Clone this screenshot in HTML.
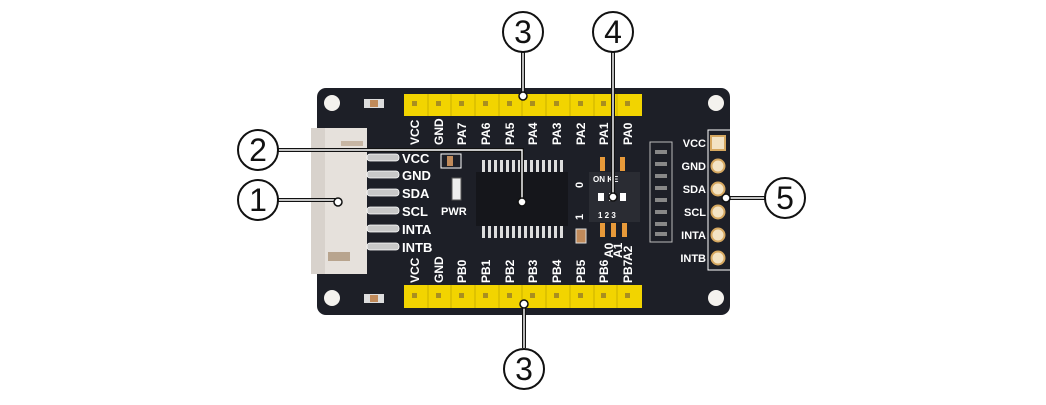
<!DOCTYPE html>
<html><head><meta charset="utf-8"><style>
html,body{margin:0;padding:0;background:#fff;width:1046px;height:405px;overflow:hidden}
svg{display:block}
.t{font-family:"Liberation Sans",sans-serif;font-weight:bold;fill:#fff}
.c{font-family:"Liberation Sans",sans-serif;fill:#111;font-size:32px}
</style></head><body>
<svg width="1046" height="405" viewBox="0 0 1046 405" xmlns="http://www.w3.org/2000/svg">
<rect x="317" y="88" width="413" height="227" rx="9" fill="#1d1f27"/>
<g fill="#f4f2ee"><circle cx="332" cy="103" r="8"/><circle cx="716" cy="103" r="8"/><circle cx="332" cy="298" r="8"/><circle cx="716" cy="298" r="8"/></g>
<g><rect x="364" y="99" width="20" height="9" fill="#ddd"/><rect x="370" y="100" width="8" height="7" fill="#c08a5a"/>
<rect x="364" y="294" width="20" height="9" fill="#ddd"/><rect x="370" y="295" width="8" height="7" fill="#c08a5a"/></g>
<rect x="404" y="94" width="238" height="22" fill="#f2d400"/>
<rect x="404" y="285" width="238" height="23" fill="#f2d400"/>
<g stroke="#c9b000" stroke-width="1">
<path d="M428 94V116M451 94V116M475 94V116M499 94V116M522 94V116M546 94V116M570 94V116M594 94V116M617 94V116"/>
<path d="M428 285V308M451 285V308M475 285V308M499 285V308M522 285V308M546 285V308M570 285V308M594 285V308M617 285V308"/>
</g>
<g fill="#a88f20">
<rect x="412" y="101" width="5" height="5"/><rect x="436" y="101" width="5" height="5"/><rect x="459" y="101" width="5" height="5"/><rect x="483" y="101" width="5" height="5"/><rect x="507" y="101" width="5" height="5"/><rect x="530" y="101" width="5" height="5"/><rect x="554" y="101" width="5" height="5"/><rect x="578" y="101" width="5" height="5"/><rect x="601" y="101" width="5" height="5"/><rect x="625" y="101" width="5" height="5"/>
<rect x="412" y="293" width="5" height="5"/><rect x="436" y="293" width="5" height="5"/><rect x="459" y="293" width="5" height="5"/><rect x="483" y="293" width="5" height="5"/><rect x="507" y="293" width="5" height="5"/><rect x="530" y="293" width="5" height="5"/><rect x="554" y="293" width="5" height="5"/><rect x="578" y="293" width="5" height="5"/><rect x="601" y="293" width="5" height="5"/><rect x="625" y="293" width="5" height="5"/>
</g>
<g class="t" font-size="12">
<text transform="translate(419,145) rotate(-90)">VCC</text>
<text transform="translate(443,145) rotate(-90)">GND</text>
<text transform="translate(466,145) rotate(-90)">PA7</text>
<text transform="translate(490,145) rotate(-90)">PA6</text>
<text transform="translate(514,145) rotate(-90)">PA5</text>
<text transform="translate(537,145) rotate(-90)">PA4</text>
<text transform="translate(561,145) rotate(-90)">PA3</text>
<text transform="translate(585,145) rotate(-90)">PA2</text>
<text transform="translate(608,145) rotate(-90)">PA1</text>
<text transform="translate(632,145) rotate(-90)">PA0</text>
<text transform="translate(419,283) rotate(-90)">VCC</text>
<text transform="translate(443,283) rotate(-90)">GND</text>
<text transform="translate(466,283) rotate(-90)">PB0</text>
<text transform="translate(490,283) rotate(-90)">PB1</text>
<text transform="translate(514,283) rotate(-90)">PB2</text>
<text transform="translate(537,283) rotate(-90)">PB3</text>
<text transform="translate(561,283) rotate(-90)">PB4</text>
<text transform="translate(585,283) rotate(-90)">PB5</text>
<text transform="translate(608,283) rotate(-90)">PB6</text>
<text transform="translate(632,283) rotate(-90)">PB7</text>
<text transform="translate(613,258) rotate(-90)">A0</text>
<text transform="translate(622,258) rotate(-90)">A1</text>
<text transform="translate(632,261) rotate(-90)">A2</text>
</g>
<rect x="311" y="128" width="56" height="146" fill="#e6e1dc"/>
<rect x="311" y="128" width="14" height="146" fill="#d8d2cc"/>
<rect x="328" y="252" width="22" height="9" fill="#b8a48e"/>
<rect x="341" y="141" width="22" height="5" fill="#c7b6a4"/>
<g fill="#c8c8c8" stroke="#fff" stroke-width="0.8">
<rect x="367" y="154" width="32" height="7" rx="3"/><rect x="367" y="171" width="32" height="7" rx="3"/><rect x="367" y="189" width="32" height="7" rx="3"/><rect x="367" y="207" width="32" height="7" rx="3"/><rect x="367" y="225" width="32" height="7" rx="3"/><rect x="367" y="243" width="32" height="7" rx="3"/>
</g>
<g class="t" font-size="13">
<text x="402" y="163">VCC</text><text x="402" y="180">GND</text><text x="402" y="198">SDA</text><text x="402" y="216">SCL</text><text x="402" y="234">INTA</text><text x="402" y="252">INTB</text>
<text x="441" y="215" font-size="11">PWR</text>
</g>
<rect x="441" y="154" width="20" height="14" fill="none" stroke="#fff" stroke-width="1"/>
<rect x="447" y="156" width="6" height="10" fill="#c08a5a"/>
<rect x="452" y="178" width="9" height="22" fill="#eee" stroke="#555"/>
<g fill="#ddd">
<rect x="482" y="160" width="3" height="12"/><rect x="488" y="160" width="3" height="12"/><rect x="494" y="160" width="3" height="12"/><rect x="500" y="160" width="3" height="12"/><rect x="506" y="160" width="3" height="12"/><rect x="512" y="160" width="3" height="12"/><rect x="518" y="160" width="3" height="12"/><rect x="524" y="160" width="3" height="12"/><rect x="530" y="160" width="3" height="12"/><rect x="536" y="160" width="3" height="12"/><rect x="542" y="160" width="3" height="12"/><rect x="548" y="160" width="3" height="12"/><rect x="554" y="160" width="3" height="12"/><rect x="560" y="160" width="3" height="12"/>
<rect x="482" y="226" width="3" height="12"/><rect x="488" y="226" width="3" height="12"/><rect x="494" y="226" width="3" height="12"/><rect x="500" y="226" width="3" height="12"/><rect x="506" y="226" width="3" height="12"/><rect x="512" y="226" width="3" height="12"/><rect x="518" y="226" width="3" height="12"/><rect x="524" y="226" width="3" height="12"/><rect x="530" y="226" width="3" height="12"/><rect x="536" y="226" width="3" height="12"/><rect x="542" y="226" width="3" height="12"/><rect x="548" y="226" width="3" height="12"/><rect x="554" y="226" width="3" height="12"/><rect x="560" y="226" width="3" height="12"/>
</g>
<rect x="476" y="172" width="92" height="54" fill="#15161b"/>
<g class="t" font-size="11"><text transform="translate(583,188) rotate(-90)">0</text><text transform="translate(583,220) rotate(-90)">1</text></g>
<rect x="576" y="229" width="10" height="14" fill="#c08a5a" stroke="#ddd"/>
<rect x="589" y="172" width="51" height="50" fill="#2a2c33"/>
<g fill="#e89a3a"><rect x="600" y="157" width="5" height="14"/><rect x="620" y="157" width="5" height="14"/><rect x="600" y="223" width="5" height="14"/><rect x="611" y="223" width="5" height="14"/><rect x="622" y="223" width="5" height="14"/></g>
<g class="t" font-size="8"><text x="593" y="182">ON KE</text><text x="598" y="218">1  2  3</text></g>
<g fill="#fff"><rect x="598" y="193" width="6" height="8"/><rect x="609" y="193" width="6" height="8"/><rect x="620" y="193" width="6" height="8"/></g>
<rect x="650" y="142" width="22" height="100" fill="none" stroke="#bbb" stroke-width="1"/>
<g fill="#888"><rect x="655" y="150" width="12" height="4"/><rect x="655" y="162" width="12" height="4"/><rect x="655" y="174" width="12" height="4"/><rect x="655" y="186" width="12" height="4"/><rect x="655" y="198" width="12" height="4"/><rect x="655" y="210" width="12" height="4"/><rect x="655" y="222" width="12" height="4"/><rect x="655" y="232" width="12" height="4"/></g>
<rect x="708" y="130" width="30" height="140" fill="none" stroke="#fff" stroke-width="1"/>
<rect x="711" y="136" width="14" height="14" fill="#f3e3c4" stroke="#d6a860" stroke-width="2"/>
<g fill="#f3e3c4" stroke="#d6a860" stroke-width="2"><circle cx="718" cy="166" r="6.5"/><circle cx="718" cy="189" r="6.5"/><circle cx="718" cy="212" r="6.5"/><circle cx="718" cy="235" r="6.5"/><circle cx="718" cy="258" r="6.5"/></g>
<g class="t" font-size="11" text-anchor="end"><text x="706" y="147">VCC</text><text x="706" y="170">GND</text><text x="706" y="193">SDA</text><text x="706" y="216">SCL</text><text x="706" y="239">INTA</text><text x="706" y="262">INTB</text></g>
<g fill="none">
<g stroke="#111" stroke-width="4">
<path d="M523 52 V96"/><path d="M613 52 V197"/><path d="M278 150 H522 V202"/><path d="M278 200 H338"/><path d="M765 198 H726"/><path d="M524 304 V348"/>
</g>
<g stroke="#fff" stroke-width="1.4">
<path d="M523 52 V96"/><path d="M613 52 V197"/><path d="M278 150 H522 V202"/><path d="M278 200 H338"/><path d="M765 198 H726"/><path d="M524 304 V348"/>
</g>
</g>
<g fill="#fff" stroke="#111" stroke-width="1.5">
<circle cx="523" cy="96" r="4"/><circle cx="613" cy="197" r="4"/><circle cx="522" cy="202" r="4"/><circle cx="338" cy="202" r="4"/><circle cx="726" cy="198" r="4"/><circle cx="524" cy="304" r="4"/>
</g>
<g fill="#fff" stroke="#111" stroke-width="2">
<circle cx="523" cy="32" r="20"/><circle cx="613" cy="32" r="20"/><circle cx="258" cy="150" r="20"/><circle cx="258" cy="200" r="20"/><circle cx="785" cy="198" r="20"/><circle cx="524" cy="369" r="20"/>
</g>
<g class="c" text-anchor="middle">
<text x="523" y="43">3</text><text x="613" y="43">4</text><text x="258" y="161">2</text><text x="258" y="211">1</text><text x="785" y="209">5</text><text x="524" y="380">3</text>
</g>
</svg>
</body></html>
